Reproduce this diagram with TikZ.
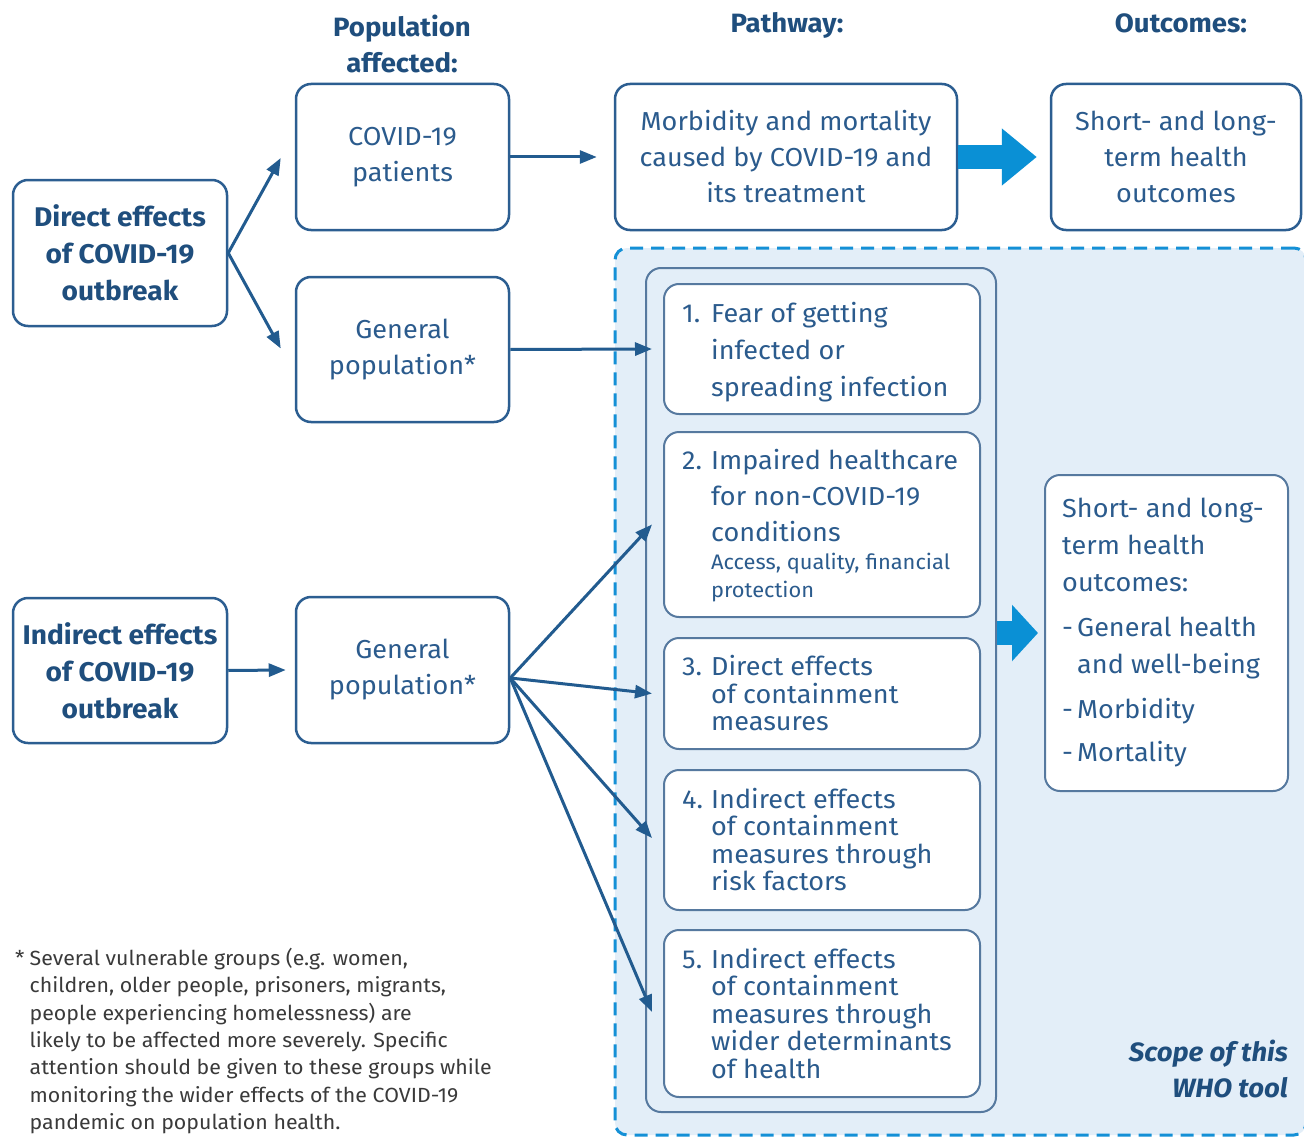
\documentclass[tikz,border=0pt]{standalone}
\usepackage{fontspec}
\setmainfont{Fira Sans}[FakeStretch=1.04]
\usetikzlibrary{arrows.meta,calc}
\definecolor{dkblue}{HTML}{1F4E7D}
\definecolor{boxline}{HTML}{2C5E91}
\definecolor{txt}{HTML}{2B5B8D}
\definecolor{arrowc}{HTML}{225B8F}
\definecolor{bigarr}{HTML}{0A90D5}
\definecolor{scopefill}{HTML}{E3EEF8}
\definecolor{scopedash}{HTML}{1490D6}
\definecolor{innerline}{HTML}{56799F}
\definecolor{foot}{HTML}{3A3A3A}
\newcommand{\myfs}[2]{\fontsize{#1pt}{#2pt}\selectfont}
\newcommand{\itemnum}[1]{\makebox[29pt][l]{#1}}
\newcommand{\indnt}{\hspace*{29pt}}
\begin{document}
\begin{tikzpicture}[x=1pt,y=-1pt,
  box/.style={draw=boxline,line width=2.5pt,rounded corners=15pt,fill=white,inner sep=0pt,align=center,text=txt,font=\myfs{26}{36}},
  boldbox/.style={box,text=dkblue,font=\bfseries\myfs{27}{37}},
  ibox/.style={draw=innerline,line width=2pt,rounded corners=15pt,fill=white,inner sep=0pt,minimum width=316pt},
  itext/.style={anchor=north west,align=left,inner sep=0pt,text=txt},
  head/.style={font=\bfseries\myfs{26.5}{36},text=dkblue,inner sep=0pt,align=center},
  arr/.style={draw=arrowc,line width=3pt,-{Triangle[length=17pt,width=13pt]}},
  bigarrow/.style={draw=bigarr,line width=24pt}
]
\useasboundingbox (0,0) rectangle (1304,1137);
\fill[white] (0,0) rectangle (1304,1137);

% scope region
\node[draw=scopedash,fill=scopefill,line width=3pt,dash pattern=on 13pt off 8pt,rounded corners=12pt,minimum width=691pt,minimum height=887pt,inner sep=0pt] (scope) at (960.5,691.5) {};
\node[draw=innerline,fill=scopefill,line width=2pt,rounded corners=15pt,minimum width=350pt,minimum height=844pt,inner sep=0pt] (col) at (821,690) {};

% headers
\node[head,anchor=north] (hpop) at (402,14.5) {Population\\affected:};
\node[head,anchor=base] (hpath) at (787,33) {Pathway:};
\node[head,anchor=base] (hout) at (1181,33) {Outcomes:};

% left boxes
\node[boldbox,minimum width=214pt,minimum height=146pt] (direct) at (120,253) {Direct effects\\of COVID-19\\outbreak};
\node[boldbox,minimum width=214pt,minimum height=145pt] (indirect) at (120,670.5) {Indirect effects\\of COVID-19\\outbreak};

\node[box,minimum width=213pt,minimum height=146pt] (patients) at (402.5,157) {COVID-19\\patients};
\node[box,minimum width=213pt,minimum height=145pt] (genpop1) at (402.5,349.5) {General\\population*};
\node[box,minimum width=213pt,minimum height=146pt] (genpop2) at (402.5,670) {General\\population*};

\node[box,minimum width=342pt,minimum height=146pt] (morb) at (786,157) {Morbidity and mortality\\caused by COVID-19 and\\its treatment};
\node[box,minimum width=250pt,minimum height=146pt] (outtop) at (1176,157) {Short- and long-\\term health\\outcomes};

% pathway boxes
\node[ibox,minimum height=130pt] (b1) at (822,349) {};
\node[ibox,minimum height=185pt] (b2) at (822,524.5) {};
\node[ibox,minimum height=111pt] (b3) at (822,693.5) {};
\node[ibox,minimum height=140pt] (b4) at (822,840) {};
\node[ibox,minimum height=167pt] (b5) at (822,1013.5) {};

\node[itext,font=\myfs{26}{37}] (t1) at ($(b1.north west)+(19,19.5)$) {\itemnum{1.}Fear of getting\\\indnt infected or\\\indnt spreading infection};
\node[itext,font=\myfs{26}{36}] (t2) at ($(b2.north west)+(19,18.5)$) {\itemnum{2.}Impaired healthcare\\\indnt for non-COVID-19\\\indnt conditions\\[-8pt]\indnt{\myfs{21}{28}Access, quality, financial}\\[-8pt]\indnt{\myfs{21}{28}protection}};
\node[itext,font=\myfs{26}{27.5}] (t3) at ($(b3.north west)+(19,18.5)$) {\itemnum{3.}Direct effects\\\indnt of containment\\\indnt measures};
\node[itext,font=\myfs{26}{27.5}] (t4) at ($(b4.north west)+(19,19)$) {\itemnum{4.}Indirect effects\\\indnt of containment\\\indnt measures through\\\indnt risk factors};
\node[itext,font=\myfs{26}{27.5}] (t5) at ($(b5.north west)+(19,19)$) {\itemnum{5.}Indirect effects\\\indnt of containment\\\indnt measures through\\\indnt wider determinants\\\indnt of health};

% outcomes box
\node[box,draw=innerline,line width=2pt,minimum width=243pt,minimum height=316pt] (outc) at (1166.5,633) {};
\node[itext,font=\myfs{26}{37}] (toutc) at ($(outc.north west)+(18,23.5)$) {Short- and long-\\term health\\outcomes:\\[8pt]\makebox[15pt][l]{-}General health\\\hspace*{15pt}and well-being\\[8pt]\makebox[15pt][l]{-}Morbidity\\[6pt]\makebox[15pt][l]{-}Mortality};

% scope label
\node[anchor=east,align=right,font=\bfseries\itshape\myfs{26.5}{36},text=dkblue,inner sep=0pt] (scopelbl) at (1288,1069) {Scope of this\\WHO tool};

% footnote
\node[anchor=north west,align=left,inner sep=0pt,text=foot,font=\myfs{20.5}{27.3}] (note) at (15,948) {\makebox[14.5pt][l]{*}Several vulnerable groups (e.g. women,\\\hspace*{14.5pt}children, older people, prisoners, migrants,\\\hspace*{14.5pt}people experiencing homelessness) are\\\hspace*{14.5pt}likely to be affected more severely. Specific\\\hspace*{14.5pt}attention should be given to these groups while\\\hspace*{14.5pt}monitoring the wider effects of the COVID-19\\\hspace*{14.5pt}pandemic on population health.};

% connectors
\draw[arr] (direct.east) -- ($(patients.west)+(-14,1)$);
\draw[arr] (direct.east) -- ($(genpop1.west)+(-14,-1)$);
\draw[arr] (patients.east) -- ($(morb.west)+(-17,0)$);
\draw[arr] (genpop1.east) -- ($(b1.west)+(-11,0)$);
\draw[arr] (indirect.east) -- ($(genpop2.west)+(-9,0)$);
\coordinate (g2o) at ($(genpop2.east)+(0,8)$);
\draw[arr] (g2o) -- ($(b2.west)+(-11,0)$);
\draw[arr] (g2o) -- ($(b3.west)+(-11,0)$);
\draw[arr] (g2o) -- ($(b4.west)+(-11,-2)$);
\draw[arr] (g2o) -- ($(b5.west)+(-11,-1.5)$);

% big arrows
\draw[bigarrow,-{Triangle[length=35pt,width=55pt]},shorten >=13pt] (morb.east) -- (outtop.west);
\draw[bigarrow,-{Triangle[length=26pt,width=55pt]},shorten >=6pt] (col.east |- outc.west) -- (outc.west);
\end{tikzpicture}
\end{document}
